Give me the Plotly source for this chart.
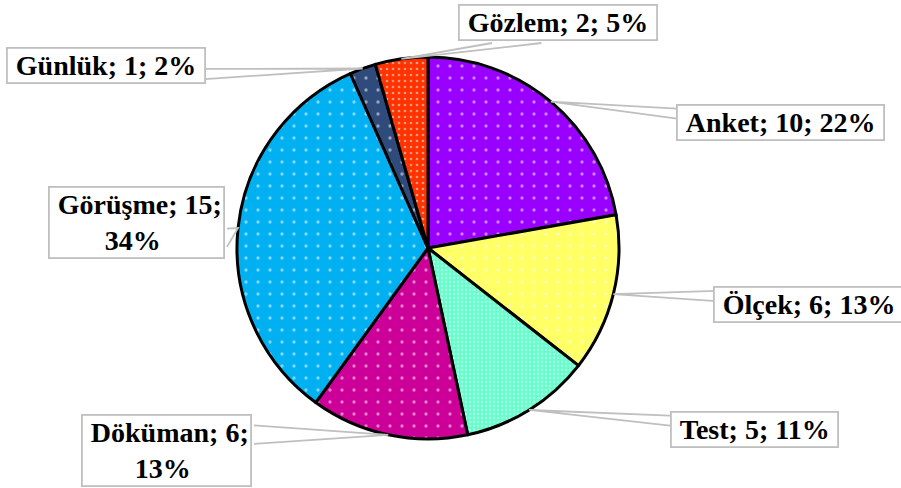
import math
import plotly.graph_objects as go

# ---- data ----
categories = ["Anket", "Ölçek", "Test", "Döküman", "Görüşme", "Günlük", "Gözlem"]
values = [10, 6, 5, 6, 15, 1, 2]
percent_labels = ["22%", "13%", "11%", "13%", "34%", "2%", "5%"]
colors = ["#9900FF", "#FFFF66", "#66FFCC", "#CC0099", "#00B0F0", "#2F4B7C", "#FF3300"]
label_texts = [
    "Anket; 10; 22%",
    "Ölçek; 6; 13%",
    "Test; 5; 11%",
    "Döküman; 6;<br>13%",
    "Görüşme; 15;<br>34%",
    "Günlük; 1; 2%",
    "Gözlem; 2; 5%",
]

# ---- layout constants (pixels) ----
W, H = 901, 488
CX, CY, R = 428, 248, 191
# label boxes: x0, y0, x1, y1 (pixels, y down)
boxes = [
    (677, 102, 884, 142),
    (716, 284, 901, 325),
    (670, 409, 839, 449),
    (79, 413, 254, 487),
    (45, 186, 227, 259),
    (7, 45, 205, 86),
    (459, 3, 657, 43),
]
pattern_sizes = [12, 12, 4, 12, 12, 12, 6]
pattern_solid = [0.06, 0.06, 0.25, 0.06, 0.06, 0.06, 0.15]

fig = go.Figure()
fig.add_trace(go.Pie(
    labels=categories,
    values=values,
    sort=False,
    direction="clockwise",
    rotation=0,
    textinfo="none",
    hoverinfo="skip",
    showlegend=False,
    marker=dict(
        colors=colors,
        line=dict(color="black", width=3),
        pattern=dict(shape=["."] * len(values), fgcolor="white", bgcolor=colors,
                     fillmode="overlay",
                     size=pattern_sizes, solidity=pattern_solid),
    ),
    domain=dict(x=[(CX - R) / W, (CX + R) / W], y=[1 - (CY + R) / H, 1 - (CY - R) / H]),
))

total = sum(values)
cum = 0
shapes = []
annotations = []
def px(x):
    return x / W
def py(y):
    return 1 - y / H

for i, v in enumerate(values):
    mid = (cum + v / 2) / total * 2 * math.pi
    cum += v
    tx = CX + R * math.sin(mid)
    ty = CY - R * math.cos(mid)
    x0, y0, x1, y1 = boxes[i]
    bw, bh = x1 - x0, y1 - y0
    bcx, bcy = (x0 + x1) / 2, (y0 + y1) / 2
    dx = (tx - bcx) / bw
    dy = (ty - bcy) / bh
    if abs(dx) > abs(dy):
        xe = x0 if dx < 0 else x1
        if ty < bcy:
            a, b = (xe, y0 + bh / 6), (xe, y0 + 5 * bh / 12)
        else:
            a, b = (xe, y0 + 7 * bh / 12), (xe, y0 + 5 * bh / 6)
    else:
        ye = y0 if dy < 0 else y1
        if tx < bcx:
            a, b = (x0 + bw / 6, ye), (x0 + 5 * bw / 12, ye)
        else:
            a, b = (x0 + 7 * bw / 12, ye), (x0 + 5 * bw / 6, ye)
    path = (f"M {px(a[0])},{py(a[1])} L {px(tx)},{py(ty)} L {px(b[0])},{py(b[1])}")
    shapes.append(dict(type="path", xref="paper", yref="paper", path=path,
                       line=dict(color="#BFBFBF", width=1.8), layer="above"))
    annotations.append(dict(
        x=px(bcx), y=py(bcy), xref="paper", yref="paper",
        xanchor="center", yanchor="middle", showarrow=False,
        text="\u00a0<b>" + label_texts[i].replace("<br>", "</b><br><b>") + "</b>\u00a0",
        font=dict(family="Liberation Serif, Times New Roman, serif", size=28, color="black"),
        bgcolor="white", bordercolor="#BFBFBF", borderwidth=1.8, borderpad=1,
        align="center",
    ))

fig.update_layout(
    width=W, height=H,
    margin=dict(l=0, r=0, t=0, b=0),
    paper_bgcolor="white", plot_bgcolor="white",
    shapes=shapes, annotations=annotations,
)
fig.write_html("out.html", config={"displayModeBar": False},
               post_script="document.body.style.margin='0';")
